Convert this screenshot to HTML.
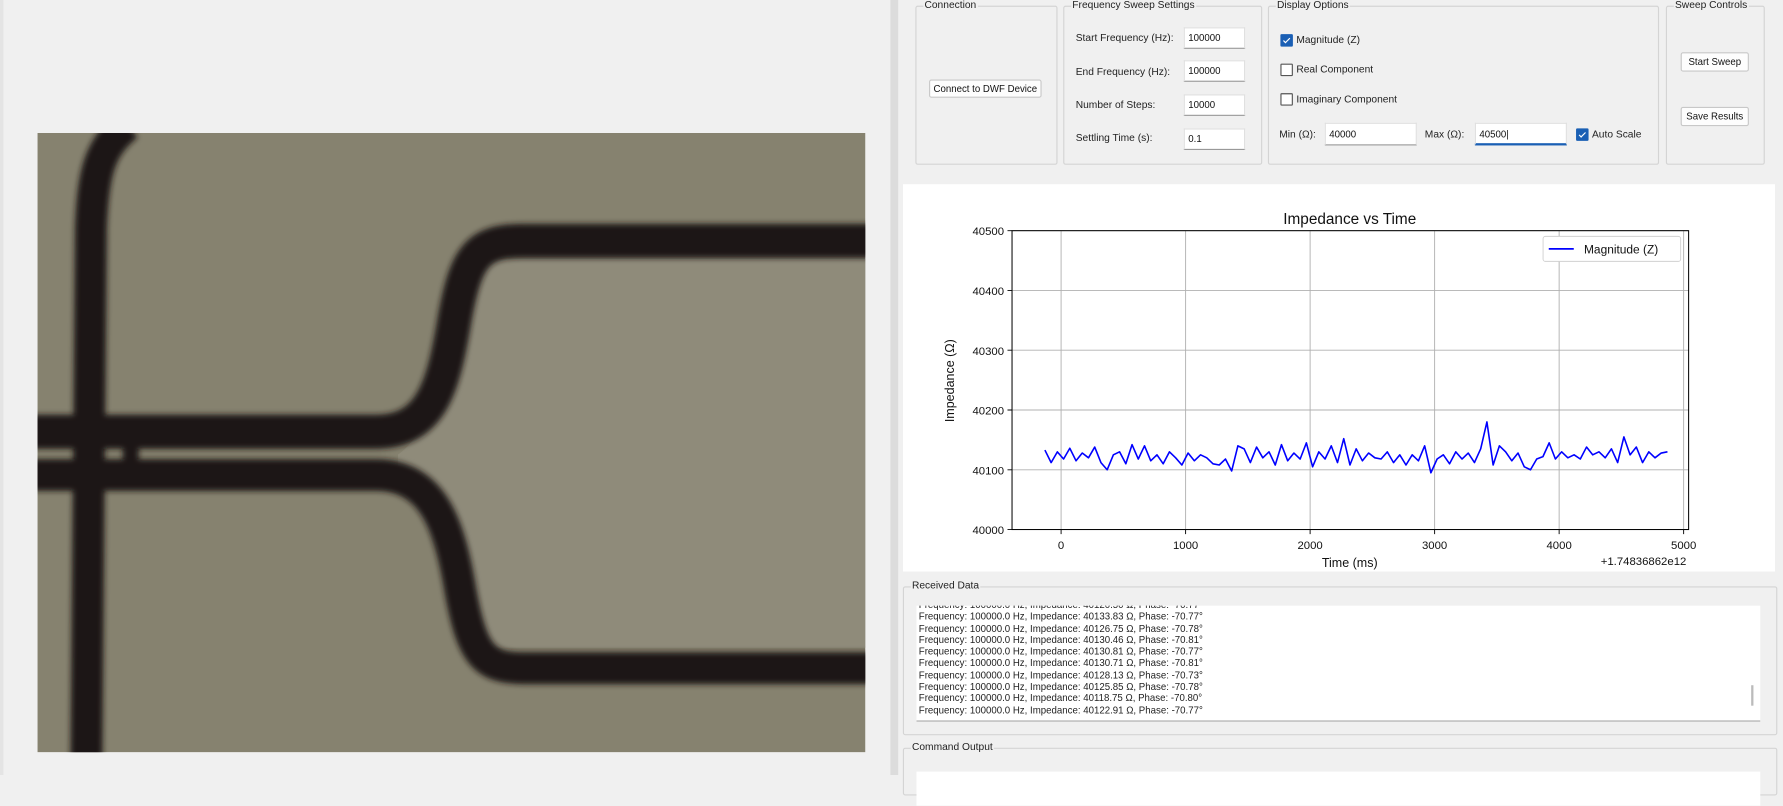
<!DOCTYPE html>
<html><head><meta charset="utf-8"><style>
html,body{margin:0;padding:0;overflow:hidden;background:#f0f0f0;}
body{width:1783px;height:775px;}
#wrap{position:absolute;left:0;top:0;width:1568px;height:682px;transform:scale(1.13712,1.13636);transform-origin:0 0;font-family:"Liberation Sans",sans-serif;color:#111;}
.abs{position:absolute;}
.grp{position:absolute;border:1px solid #d4d4d4;border-radius:2px;}
.gt{position:absolute;top:-7px;left:6px;background:#f0f0f0;font-size:9px;padding:0 1px;color:#222;}
.lbl{position:absolute;font-size:9px;color:#222;}
.inp{position:absolute;background:#fff;border:1px solid #e0e0e0;border-bottom:1px solid #999;font-size:8.5px;padding-left:3px;box-sizing:border-box;line-height:17px;}
.btn{position:absolute;background:#fdfdfd;border:1px solid #c8c8c8;border-radius:2px;font-size:8.5px;text-align:center;box-sizing:border-box;}
.cb{position:absolute;width:9px;height:9px;border:1px solid #555;background:#fff;border-radius:1px;}
.cb.on{background:#1a5fb4;border-color:#1a5fb4;}
.cb.on:after{content:"";position:absolute;left:2.5px;top:0.5px;width:2px;height:5px;border:solid #fff;border-width:0 1.3px 1.3px 0;transform:rotate(45deg);}
.dl{font-size:8.5px;line-height:10.3px;white-space:nowrap;color:#222;}
</style></head><body>
<div id="wrap">
<div class="abs" style="left:0;top:0;width:3px;height:682px;background:#e4e4e4;"></div>
<svg class="abs" style="left:33px;top:117px" width="728" height="545" viewBox="33 117 728 545">
<defs><filter id="bl"><feGaussianBlur stdDeviation="2.5"/></filter></defs>
<rect x="33" y="117" width="728" height="545" fill="#86826f"/>
<path d="M430 228 L761 228 L761 570 L430 570 C400 560 395 470 350 430 L350 400 C395 370 400 240 430 228 Z" fill="#8f8b7a"/>
<g filter="url(#bl)" fill="none" stroke="#1a1813" stroke-width="28">
<path d="M112 110 C88 130 82 150 80 200 L76 670"/>
<path d="M28 380 L330 380 C380 380 390 340 400 280 C410 225 420 212 460 212 L770 212" stroke-width="30"/>
<path d="M28 418 L330 418 C380 418 395 460 405 520 C415 575 425 588 460 588 L770 588" stroke-width="28"/>
<path d="M115 392 L115 418" stroke-width="14"/>
</g>
</svg>
<div class="abs" style="left:783px;top:0;width:7px;height:682px;background:#dcdcdc;"></div>
<div class="abs" style="left:790px;top:0;width:778px;height:682px;background:#f0f0f0;"></div>

<div class="grp" style="left:805px;top:5px;width:123px;height:138px;"><span class="gt">Connection</span>
<div class="btn" style="left:11px;top:64px;width:99px;height:16px;line-height:14px;">Connect to DWF Device</div></div>

<div class="grp" style="left:935px;top:5px;width:173px;height:138px;"><span class="gt">Frequency Sweep Settings</span>
<div class="lbl" style="left:10px;top:22px">Start Frequency (Hz):</div>
<div class="inp" style="left:105px;top:18px;width:54px;height:19px;">100000</div>
<div class="lbl" style="left:10px;top:52px">End Frequency (Hz):</div>
<div class="inp" style="left:105px;top:47px;width:54px;height:19px;">100000</div>
<div class="lbl" style="left:10px;top:81px">Number of Steps:</div>
<div class="inp" style="left:105px;top:77px;width:54px;height:19px;">10000</div>
<div class="lbl" style="left:10px;top:110px">Settling Time (s):</div>
<div class="inp" style="left:105px;top:107px;width:54px;height:19px;">0.1</div></div>

<div class="grp" style="left:1115px;top:5px;width:342px;height:138px;"><span class="gt">Display Options</span>
<div class="cb on" style="left:10px;top:24px"></div><div class="lbl" style="left:24px;top:24px">Magnitude (Z)</div>
<div class="cb" style="left:10px;top:50px"></div><div class="lbl" style="left:24px;top:50px">Real Component</div>
<div class="cb" style="left:10px;top:76px"></div><div class="lbl" style="left:24px;top:76px">Imaginary Component</div>
<div class="lbl" style="left:9px;top:107px">Min (Ω):</div>
<div class="inp" style="left:49px;top:102px;width:81px;height:20px;line-height:18px;">40000</div>
<div class="lbl" style="left:137px;top:107px">Max (Ω):</div>
<div class="inp" style="left:181px;top:102px;width:81px;height:20px;line-height:18px;border-bottom:2px solid #1a5fb4;">40500|</div>
<div class="cb on" style="left:270px;top:107px"></div><div class="lbl" style="left:284px;top:107px">Auto Scale</div></div>

<div class="grp" style="left:1465px;top:5px;width:85px;height:138px;"><span class="gt">Sweep Controls</span>
<div class="btn" style="left:12px;top:40px;width:60px;height:17px;line-height:15px;">Start Sweep</div>
<div class="btn" style="left:12px;top:88px;width:60px;height:17px;line-height:15px;">Save Results</div></div>

<svg class="abs" id="chart" style="left:794px;top:162px" width="767" height="341" viewBox="794 162 767 341" font-family="Liberation Sans, sans-serif"></svg>

<div class="grp" style="left:794px;top:516px;width:767px;height:129px;"><span class="gt">Received Data</span>
<div class="abs" style="left:11px;top:16px;width:742px;height:101px;background:#fff;overflow:hidden;border-bottom:1px solid #aaa;">
<div style="padding-left:2px;margin-top:-6px">
<div class="dl">Frequency: 100000.0 Hz, Impedance: 40120.50 Ω, Phase: -70.77°</div>
<div class="dl">Frequency: 100000.0 Hz, Impedance: 40133.83 Ω, Phase: -70.77°</div>
<div class="dl">Frequency: 100000.0 Hz, Impedance: 40126.75 Ω, Phase: -70.78°</div>
<div class="dl">Frequency: 100000.0 Hz, Impedance: 40130.46 Ω, Phase: -70.81°</div>
<div class="dl">Frequency: 100000.0 Hz, Impedance: 40130.81 Ω, Phase: -70.77°</div>
<div class="dl">Frequency: 100000.0 Hz, Impedance: 40130.71 Ω, Phase: -70.81°</div>
<div class="dl">Frequency: 100000.0 Hz, Impedance: 40128.13 Ω, Phase: -70.73°</div>
<div class="dl">Frequency: 100000.0 Hz, Impedance: 40125.85 Ω, Phase: -70.78°</div>
<div class="dl">Frequency: 100000.0 Hz, Impedance: 40118.75 Ω, Phase: -70.80°</div>
<div class="dl">Frequency: 100000.0 Hz, Impedance: 40122.91 Ω, Phase: -70.77°</div>
</div>
<div class="abs" style="right:6px;top:70px;width:2px;height:18px;background:#bbb;"></div>
</div></div>

<div class="grp" style="left:794px;top:658px;width:767px;height:40px;"><span class="gt">Command Output</span>
<div class="abs" style="left:11px;top:20px;width:742px;height:30px;background:#fff;"></div></div>
</div>
<script>
const times=[-130,-80,-30,20,70,120,170,220,270,320,370,420,470,520,570,620,670,720,770,820,870,920,970,1020,1070,1120,1170,1220,1270,1320,1370,1420,1470,1520,1570,1620,1670,1720,1770,1820,1870,1920,1970,2020,2070,2120,2170,2220,2270,2320,2370,2420,2470,2520,2570,2620,2670,2720,2770,2820,2870,2920,2970,3020,3070,3120,3170,3220,3270,3320,3370,3420,3470,3520,3570,3620,3670,3720,3770,3820,3870,3920,3970,4020,4070,4120,4170,4220,4270,4320,4370,4420,4470,4520,4570,4620,4670,4720,4770,4820,4870];
const magnitude=[40133,40112,40130,40118,40136,40115,40128,40120,40138,40112,40100,40125,40130,40110,40142,40118,40140,40115,40125,40110,40130,40120,40108,40128,40115,40125,40120,40110,40108,40118,40098,40140,40135,40112,40138,40120,40130,40108,40142,40115,40128,40118,40145,40105,40130,40118,40140,40112,40152,40108,40135,40115,40128,40120,40118,40130,40112,40125,40108,40125,40115,40140,40095,40118,40125,40110,40130,40118,40128,40112,40135,40180,40108,40140,40130,40115,40128,40105,40100,40118,40122,40145,40118,40130,40120,40125,40118,40138,40125,40130,40120,40135,40112,40155,40125,40138,40112,40130,40120,40128,40130];
const xTicks=[0,1000,2000,3000,4000,5000];
const yTicks=[40000,40100,40200,40300,40400,40500];
const L=890,R=1485,T=203,B=466;
const xMin=-394,xMax=5040,yMin=40000,yMax=40500;
const sx=v=>L+(v-xMin)/(xMax-xMin)*(R-L);
const sy=v=>B-(v-yMin)/(yMax-yMin)*(B-T);
const svg=document.getElementById('chart');
const NS='http://www.w3.org/2000/svg';
function mk(tag,attrs,parent){const e=document.createElementNS(NS,tag);for(const k in attrs)e.setAttribute(k,attrs[k]);(parent||svg).appendChild(e);return e;}
const bg=mk('rect',{x:794,y:162,width:767,height:341,fill:'#fff'});


const title=mk('text',{x:1187,y:197,'font-size':13.5,'text-anchor':'middle',fill:'#111'});title.textContent='Impedance vs Time';


xTicks.forEach(t=>{const x=sx(t);
 const g=mk('line',{x1:x,x2:x,y1:T,y2:B,stroke:'#b0b0b0','stroke-width':0.8});
 
 
 mk('line',{x1:x,x2:x,y1:B,y2:B+4,stroke:'#000','stroke-width':0.8});
 const tx=mk('text',{x:x,y:B+17,'font-size':10,'text-anchor':'middle',fill:'#111'});tx.textContent=t;
 
 });
yTicks.forEach(t=>{const y=sy(t);
 const g=mk('line',{x1:L,x2:R,y1:y,y2:y,stroke:'#b0b0b0','stroke-width':0.8});
 
 
 mk('line',{x1:L-4,x2:L,y1:y,y2:y,stroke:'#000','stroke-width':0.8});
 const tx=mk('text',{x:L-7,y:y+4,'font-size':10,'text-anchor':'end',fill:'#111'});tx.textContent=t;
 
 });
const frame=mk('rect',{x:L,y:T,width:R-L,height:B-T,fill:'none',stroke:'#000','stroke-width':0.9});


const line=mk('polyline',{points:times.map((t,i)=>sx(t)+','+sy(magnitude[i])).join(' '),fill:'none',stroke:'#0000ff','stroke-width':1.4,'stroke-linejoin':'round'});


const xl=mk('text',{x:1187,y:499,'font-size':11,'text-anchor':'middle',fill:'#111'});xl.textContent='Time (ms)';


const off=mk('text',{x:1483,y:497,'font-size':10,'text-anchor':'end',fill:'#111'});off.textContent='+1.74836862e12';


const yl=mk('text',{x:0,y:0,'font-size':11,'text-anchor':'middle',fill:'#111',transform:'translate(839,335) rotate(-90)'});yl.textContent='Impedance (Ω)';


const lg=mk('g',{});


mk('rect',{x:1357,y:208,width:121,height:22,fill:'#fff',stroke:'#d0d0d0','stroke-width':0.8,rx:2},lg);
mk('line',{x1:1362,x2:1384,y1:219,y2:219,stroke:'#0000ff','stroke-width':1.5},lg);
const lt=mk('text',{x:1393,y:223,'font-size':10.5,fill:'#111'},lg);lt.textContent='Magnitude (Z)';


</script>
</body></html>
